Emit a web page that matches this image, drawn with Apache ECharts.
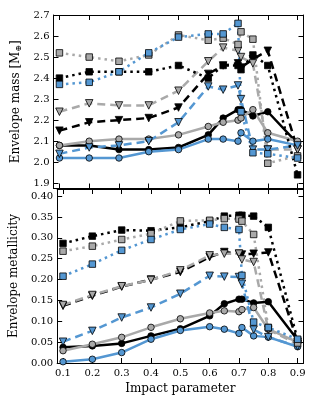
<!DOCTYPE html>
<html><head><meta charset="utf-8">
<script src="https://cdn.jsdelivr.net/npm/echarts@6/dist/echarts.min.js"></script>
<style>html,body{margin:0;padding:0;background:#fff}#c{width:315px;height:406px}</style>
</head><body><div id="c"></div>
<script>
// impact parameter values
const xs = [0.1,0.2,0.3,0.4,0.5,0.6,0.65,0.7,0.71,0.75,0.8,0.9];
const xTicks = [0.1,0.2,0.3,0.4,0.5,0.6,0.7,0.8,0.9];
const massTicks = [1.9,2.0,2.1,2.2,2.3,2.4,2.5,2.6,2.7];
const metTicks = [0,0.05,0.10,0.15,0.20,0.25,0.30,0.35,0.40];

// Envelope mass (top panel)
const massBlackCircle = [2.08,2.08,2.06,2.06,2.07,2.13,2.21,2.25,2.25,2.22,2.24,2.09];
const massGrayCircle  = [2.08,2.10,2.11,2.11,2.13,2.17,2.19,2.20,2.21,2.25,2.14,2.10];
const massBlueCircle  = [2.02,2.02,2.02,2.05,2.06,2.11,2.11,2.10,2.14,2.10,2.11,2.08];
const massBlackTri = [2.15,2.19,2.20,2.21,2.26,2.42,2.46,2.47,2.45,2.49,2.53,2.06];
const massGrayTri  = [2.24,2.28,2.27,2.27,2.34,2.48,2.545,2.53,2.50,2.47,2.06,2.06];
const massBlueTri  = [2.04,2.07,2.08,2.10,2.19,2.36,2.345,2.365,2.30,2.06,2.06,2.08];
const massBlackSq = [2.40,2.43,2.43,2.43,2.46,2.40,2.46,2.46,2.44,2.51,2.46,1.94];
const massGraySq  = [2.52,2.50,2.48,2.51,2.605,2.58,2.59,2.56,2.62,2.585,1.995,2.03];
const massBlueSq  = [2.37,2.38,2.43,2.52,2.595,2.61,2.61,2.66,2.24,2.045,2.04,2.02];

// Envelope metallicity (bottom panel)
const metBlackCircle = [0.0375,0.041,0.047,0.065,0.082,0.113,0.142,0.153,0.153,0.144,0.147,0.055];
const metGrayCircle  = [0.0295,0.045,0.0615,0.0855,0.106,0.120,0.125,0.123,0.128,0.133,0.081,0.050];
const metBlueCircle  = [0.003,0.009,0.025,0.057,0.078,0.087,0.081,0.071,0.085,0.065,0.062,0.039];
const metBlackTri = [0.137,0.161,0.183,0.200,0.218,0.254,0.266,0.262,0.26,0.262,0.265,0.05];
const metGrayTri  = [0.139,0.163,0.184,0.199,0.222,0.258,0.262,0.262,0.248,0.242,0.08,0.045];
const metBlueTri  = [0.051,0.077,0.109,0.133,0.166,0.209,0.207,0.206,0.19,0.08,0.062,0.04];
const metBlackSq = [0.2866,0.304,0.3186,0.317,0.325,0.34,0.352,0.354,0.354,0.352,0.325,0.055];
const metGraySq  = [0.268,0.28,0.296,0.31,0.3405,0.342,0.346,0.345,0.34,0.308,0.085,0.048];
const metBlueSq  = [0.208,0.237,0.27,0.296,0.32,0.333,0.325,0.32,0.21,0.098,0.085,0.057];

const BLACK = '#000000', GRAY = '#a9a9a9', BLUE = '#5497d2';
const FONT = 'DejaVu Serif';

function pairs(ys){ return xs.map((x,i)=>[x, ys[i]]); }
function mk(ys, color, kind, idx){
  const sym = kind==='circle' ? 'circle' : (kind==='tri' ? 'triangle' : 'rect');
  const lt = kind==='circle' ? 'solid' : (kind==='tri' ? [8,5] : [2.5,4]);
  return {
    type:'line', xAxisIndex: idx, yAxisIndex: idx, data: pairs(ys),
    symbol: sym, symbolSize: kind==='tri' ? 7.5 : 6.5, symbolRotate: kind==='tri' ? 180 : 0,
    showAllSymbol: true, animation:false,
    lineStyle:{color: color, width: 2.5, type: lt, cap:'butt'},
    itemStyle:{color: color, borderColor:'#000', borderWidth: 0.8},
    emphasis:{disabled:true}
  };
}
const axisLineStyle = {show:true, onZero:false, lineStyle:{color:'#000', width:1}};
function xAx(grid, pos, labels){
  return {type:'value', gridIndex:grid, position:pos, min:0.08, max:0.92,
    axisLine: axisLineStyle, splitLine:{show:false},
    axisTick:{show:true, inside:true, length:5, customValues:xTicks, lineStyle:{color:'#000'}},
    axisLabel:{show:labels, customValues:xTicks, formatter:v=>v.toFixed(1), fontFamily:FONT, fontSize:10, color:'#000', margin:5},
    name: labels ? 'Impact parameter' : '', nameLocation:'middle', nameGap:20,
    nameTextStyle:{fontFamily:FONT, fontSize:12, color:'#000'}};
}
function yAx(grid, pos, labels, min, max, ticks, dec, name){
  return {type:'value', gridIndex:grid, position:pos, min:min, max:max,
    axisLine: axisLineStyle, splitLine:{show:false},
    axisTick:{show:true, inside:true, length:5, customValues:ticks, lineStyle:{color:'#000'}},
    axisLabel:{show:labels, customValues:ticks, formatter:v=>v.toFixed(dec), fontFamily:FONT, fontSize:10, color:'#000', margin:4},
    name: labels ? name : '', nameLocation:'middle', nameGap:31,
    nameTextStyle:{fontFamily:FONT, fontSize:12, color:'#000',
      rich:{s:{fontFamily:FONT, fontSize:8, color:'#000', padding:[5,0,0,0]}}}};
}
const chart = echarts.init(document.getElementById('c'), null, {renderer:'canvas'});
chart.setOption({
  backgroundColor:'#fff', animation:false,
  grid:[{left:53.5, right:11.5, top:15, height:173.5},
        {left:53.5, right:11.5, top:189, height:174}],
  xAxis:[xAx(0,'bottom',false), xAx(1,'bottom',true), xAx(0,'top',false), xAx(1,'top',false)],
  yAxis:[yAx(0,'left',true,1.875,2.7,massTicks,1,'Envelope mass [M{s|⊕}]'),
         yAx(1,'left',true,0,0.417,metTicks,2,'Envelope metallicity'),
         yAx(0,'right',false,1.875,2.7,massTicks,1,''),
         yAx(1,'right',false,0,0.417,metTicks,2,'')],
  series:[
    mk(massBlackCircle,BLACK,'circle',0), mk(massGrayCircle,GRAY,'circle',0), mk(massBlueCircle,BLUE,'circle',0),
    mk(massBlackTri,BLACK,'tri',0), mk(massGrayTri,GRAY,'tri',0), mk(massBlueTri,BLUE,'tri',0),
    mk(massBlackSq,BLACK,'sq',0), mk(massGraySq,GRAY,'sq',0), mk(massBlueSq,BLUE,'sq',0),
    mk(metBlackCircle,BLACK,'circle',1), mk(metGrayCircle,GRAY,'circle',1), mk(metBlueCircle,BLUE,'circle',1),
    mk(metBlackTri,BLACK,'tri',1), mk(metGrayTri,GRAY,'tri',1), mk(metBlueTri,BLUE,'tri',1),
    mk(metBlackSq,BLACK,'sq',1), mk(metGraySq,GRAY,'sq',1), mk(metBlueSq,BLUE,'sq',1)
  ]
});
</script></body></html>
